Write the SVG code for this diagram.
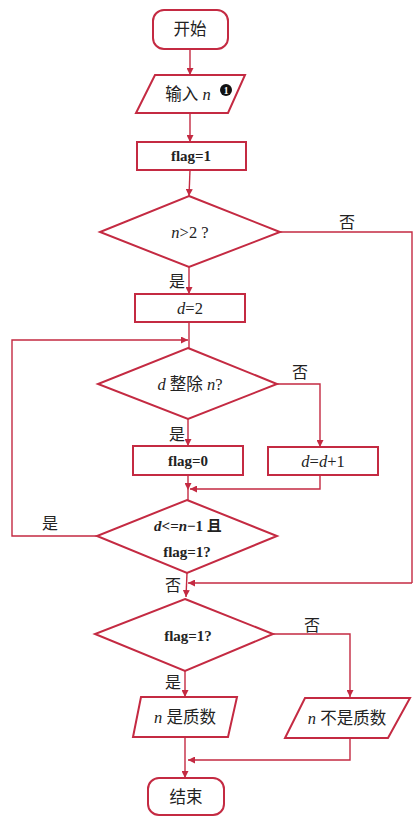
<svg xmlns="http://www.w3.org/2000/svg" width="414" height="818" viewBox="0 0 414 818">
<style>
.s{fill:#fff;stroke:#c42a42;stroke-width:2}
.c{fill:none;stroke:#c42a42;stroke-width:1.4}
.a{marker-end:url(#ah)}
text{font-family:"Liberation Serif","Noto Sans CJK SC",serif;fill:#222;font-size:16.5px;text-anchor:middle}
.b{font-weight:bold;font-size:15px}
.i{font-style:italic}
.l{font-size:16px}
</style>
<defs>
<marker id="ah" viewBox="0 0 10 10" refX="10" refY="5" markerWidth="7" markerHeight="7" orient="auto" markerUnits="userSpaceOnUse">
<path d="M0,0 L10,5 L0,10 z" fill="#c42a42"/>
</marker>
</defs>
<rect width="414" height="818" fill="#fff"/>
<g id="connectors">
<path class="c a" d="M190,49 V75"/>
<path class="c a" d="M190,113 V142"/>
<path class="c a" d="M190,170 L189,196"/>
<path class="c" d="M280,232 H412 V583"/>
<path class="c a" d="M412,583 H188"/>
<path class="c a" d="M189,267 V294"/>
<path class="c" d="M189,322 V348"/>
<path class="c a" d="M97,536 H12 V340 H188"/>
<path class="c a" d="M277,384 H320 V447"/>
<path class="c a" d="M188,419 V446"/>
<path class="c a" d="M188,475 V490"/>
<path class="c" d="M188,490 V500"/>
<path class="c a" d="M320,475 V489 H190"/>
<path class="c a" d="M187,573 L186,597"/>
<path class="c a" d="M273,634 H350 V697"/>
<path class="c a" d="M185,671 V697"/>
<path class="c a" d="M350,738 V760 H188"/>
<path class="c a" d="M185,737 V778"/>
<text x="347" y="228" class="l">否</text>
<text x="177" y="287" class="l">是</text>
<text x="300" y="378" class="l">否</text>
<text x="177" y="440" class="l">是</text>
<text x="50" y="529" class="l">是</text>
<text x="173" y="591" class="l">否</text>
<text x="312" y="631" class="l">否</text>
<text x="173" y="688" class="l">是</text>
</g>
<g id="start">
<rect class="s" x="153" y="10" width="75" height="39" rx="11"/>
<text x="190" y="35">开始</text>
</g>
<g id="input">
<polygon class="s" points="155,75 245,75 228,113 136,113"/>
<text x="188" y="100">输入 <tspan class="i">n</tspan></text>
<circle cx="226" cy="90" r="6" fill="#111"/>
<text x="226" y="93.5" style="font-size:9.5px;fill:#fff;font-weight:bold">1</text>
</g>
<g id="flag1">
<rect class="s" x="137" y="142" width="109" height="28"/>
<text x="191" y="161" class="b">flag=1</text>
</g>
<g id="cond1">
<polygon class="s" points="189,196 280,232 189,267 100,232"/>
<text x="190" y="238"><tspan class="i">n</tspan>&gt;2 ?</text>
</g>
<g id="d2">
<rect class="s" x="135" y="294" width="110" height="28"/>
<text x="190" y="314"><tspan class="i">d</tspan>=2</text>
</g>
<g id="cond2">
<polygon class="s" points="188,348 277,384 188,419 98,384"/>
<text x="190" y="390"><tspan class="i">d</tspan> 整除 <tspan class="i">n</tspan>?</text>
</g>
<g id="flag0">
<rect class="s" x="133" y="446" width="110" height="29"/>
<text x="188" y="466" class="b">flag=0</text>
</g>
<g id="dinc">
<rect class="s" x="268" y="447" width="110" height="28"/>
<text x="323" y="467"><tspan class="i">d</tspan>=<tspan class="i">d</tspan>+1</text>
</g>
<g id="cond3">
<polygon class="s" points="187,500 277,536 187,573 97,536"/>
<text x="188" y="531" class="b"><tspan class="i">d</tspan>&lt;=<tspan class="i">n</tspan>−1 且</text>
<text x="187" y="557" class="b">flag=1?</text>
</g>
<g id="cond4">
<polygon class="s" points="185,599 273,634 185,671 95,634"/>
<text x="188" y="641" class="b">flag=1?</text>
</g>
<g id="prime">
<polygon class="s" points="141,697 237,697 228,737 133,737"/>
<text x="185" y="723"><tspan class="i">n</tspan> 是质数</text>
</g>
<g id="notprime">
<polygon class="s" points="305,698 410,698 388,738 285,738"/>
<text x="347" y="724"><tspan class="i">n</tspan> 不是质数</text>
</g>
<g id="end">
<rect class="s" x="148" y="778" width="76" height="37" rx="11"/>
<text x="186" y="803">结束</text>
</g>
</svg>
